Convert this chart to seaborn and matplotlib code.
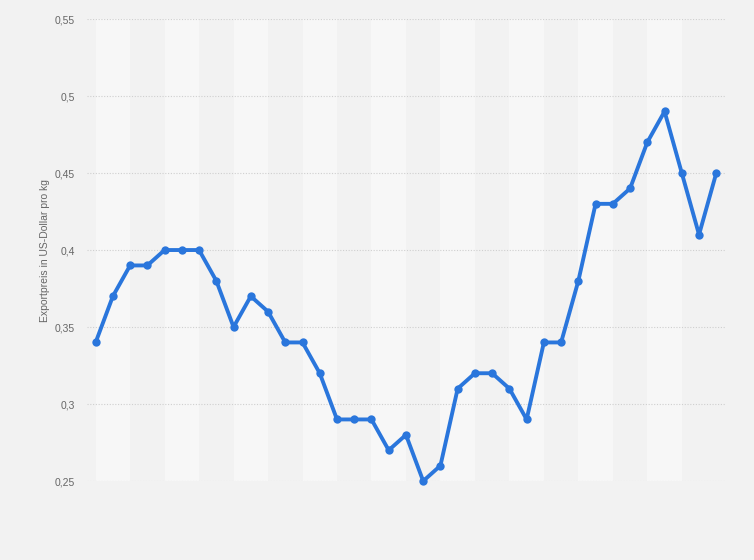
import matplotlib
matplotlib.use("Agg")
import matplotlib.pyplot as plt
import matplotlib.ticker as mticker
import seaborn as sns
import pandas as pd

# export price per period (no period labels shown on the chart)
periods = list(range(37))
prices = [0.34, 0.37, 0.39, 0.39, 0.40, 0.40, 0.40, 0.38, 0.35, 0.37,
          0.36, 0.34, 0.34, 0.32, 0.29, 0.29, 0.29, 0.27, 0.28, 0.25,
          0.26, 0.31, 0.32, 0.32, 0.31, 0.29, 0.34, 0.34, 0.38, 0.43,
          0.43, 0.44, 0.47, 0.49, 0.45, 0.41, 0.45]
y_ticks = [0.25, 0.30, 0.35, 0.40, 0.45, 0.50, 0.55]
y_label = "Exportpreis in US-Dollar pro kg"

df = pd.DataFrame({"period": periods, "price": prices})

sns.set_style("white", {"axes.facecolor": "#f2f2f2", "figure.facecolor": "#f2f2f2"})
plt.rcParams["font.family"] = ["Liberation Sans", "DejaVu Sans"]

fig = plt.figure(figsize=(7.54, 5.6), dpi=100)
ax = fig.add_axes([0.1154, 0.141, 0.846, 0.825])

# alternating light column bands, two periods wide
for start in range(0, len(periods) - 2, 4):
    ax.axvspan(start, start + 2, color="#f7f7f7", zorder=0, lw=0)

for t in y_ticks:
    ax.axhline(t, color="#cfcfcf", lw=0.8, ls=(0, (1, 1.5)), zorder=1)

sns.lineplot(data=df, x="period", y="price", ax=ax, color="#2a76dc",
             lw=2.8, marker="o", markersize=6, markeredgewidth=0, zorder=3,
             clip_on=False)

ax.set_xlim(-0.5, 36.5)
ax.set_ylim(0.25, 0.55)
ax.set_yticks(y_ticks)
ax.yaxis.set_major_formatter(mticker.FuncFormatter(
    lambda v, p: f"{v:.2f}".rstrip("0").rstrip(".").replace(".", ",")))
ax.set_xticks([])
ax.tick_params(axis="y", length=0, pad=9, labelsize=7.5, labelcolor="#666666")
ax.set_xlabel("")
ax.set_ylabel(y_label, fontsize=7.5, color="#666666", labelpad=3)
for s in ax.spines.values():
    s.set_visible(False)

fig.savefig("out.png", dpi=100, facecolor="#f2f2f2")
